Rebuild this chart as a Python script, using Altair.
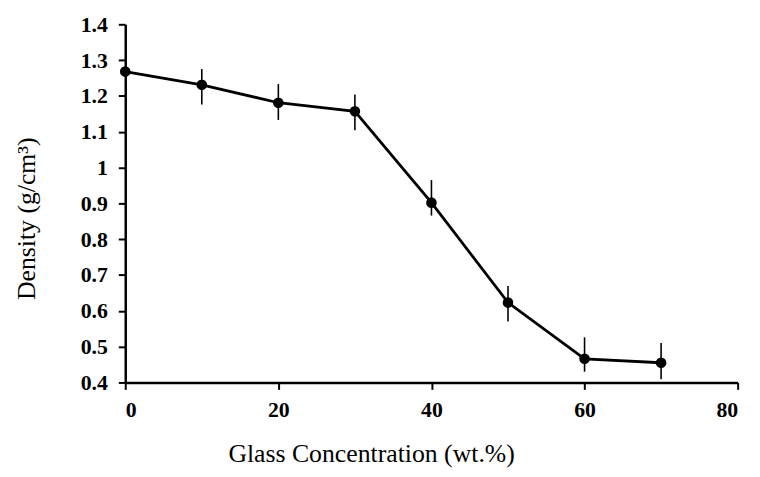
import altair as alt
import pandas as pd

# Data
conc = [0, 10, 20, 30, 40, 50, 60, 70]
density = [1.268, 1.231, 1.181, 1.157, 0.902, 0.623, 0.466, 0.455]
err_low = [1.258, 1.176, 1.133, 1.104, 0.866, 0.570, 0.430, 0.409]
err_high = [1.278, 1.275, 1.233, 1.204, 0.965, 0.669, 0.526, 0.510]

x_ticks = [0, 20, 40, 60, 80]
y_ticks = [0.4, 0.5, 0.6, 0.7, 0.8, 0.9, 1.0, 1.1, 1.2, 1.3, 1.4]

df = pd.DataFrame({"conc": conc, "density": density, "lo": err_low, "hi": err_high})

FONT = "Liberation Serif"
W, H = 619, 362

x_scale = alt.Scale(domain=[0, 80], nice=False, zero=False)
y_scale = alt.Scale(domain=[0.4, 1.4], nice=False, zero=False)

x_axis = alt.Axis(
    values=x_ticks,
    format="d",
    title="Glass Concentration (wt.%)",
    titleX=248.5,
    titleY=80,
    titleAlign="center",
    titleBaseline="alphabetic",
    labelPadding=10,
    labelOverlap=False,
)
y_axis = alt.Axis(
    values=y_ticks,
    format="~g",
    title="Density (g/cm³)",
    titleAngle=270,
    titleX=-91.5,
    titleY=196,
    titleAlign="center",
    titleBaseline="alphabetic",
    labelPadding=11,
    labelOverlap=False,
)

base = alt.Chart(df)

line = base.mark_line(color="black", strokeWidth=2.8, clip=False).encode(
    x=alt.X("conc:Q", scale=x_scale, axis=x_axis),
    y=alt.Y("density:Q", scale=y_scale, axis=y_axis),
)
bars = base.mark_rule(color="black", strokeWidth=1.6, clip=False).encode(
    x=alt.X("conc:Q", scale=x_scale, axis=x_axis),
    y=alt.Y("lo:Q", scale=y_scale, axis=y_axis),
    y2="hi:Q",
)
pts = base.mark_circle(color="black", size=115, opacity=1, clip=False).encode(
    x=alt.X("conc:Q", scale=x_scale, axis=x_axis),
    y=alt.Y("density:Q", scale=y_scale, axis=y_axis),
)

chart = (
    alt.layer(line, bars, pts)
    .properties(
        width=W,
        height=H,
        padding={"left": 118.5, "top": 14, "right": 14.5, "bottom": 85},
        autosize=alt.AutoSizeParams(type="none"),
        background="white",
    )
    .configure_view(stroke=None)
    .configure_axis(
        grid=False,
        domainColor="black",
        domainWidth=2.5,
        tickColor="black",
        tickWidth=2,
        tickSize=7,
        labelFont=FONT,
        labelFontSize=22,
        labelFontWeight="bold",
        labelColor="black",
        titleFont=FONT,
        titleFontSize=26,
        titleFontWeight="normal",
        titleColor="black",
    )
)

chart.save("out.html", embed_options={"renderer": "svg", "actions": False})
